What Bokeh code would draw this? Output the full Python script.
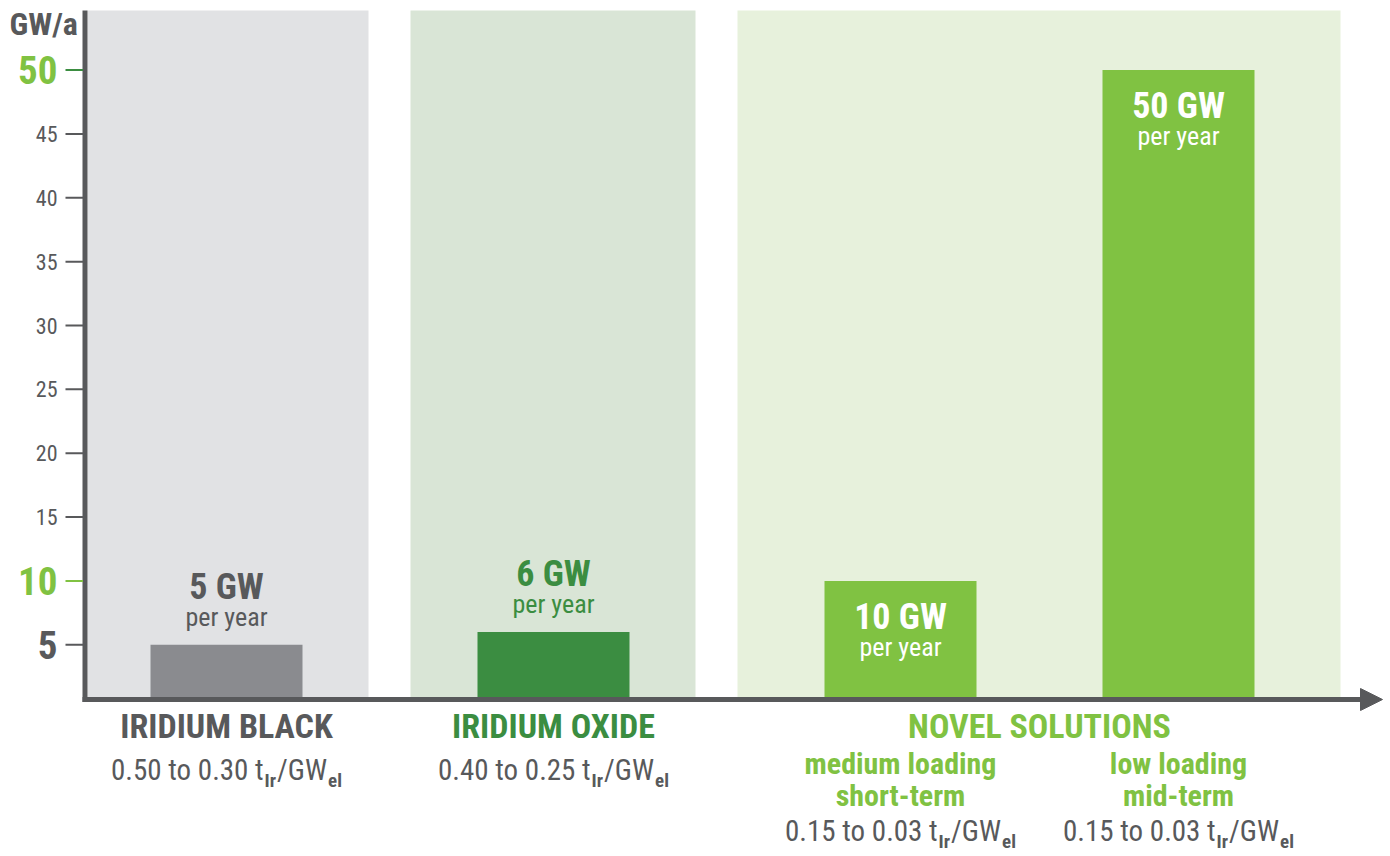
import glob, os
from bokeh.plotting import figure
from bokeh.models import Range1d, Arrow, NormalHead
from bokeh.core.properties import value
from bokeh.embed import file_html
from bokeh.resources import INLINE

# ---------------- data ----------------
groups = ["IRIDIUM BLACK", "IRIDIUM OXIDE", "NOVEL SOLUTIONS"]
bar_values = [5, 6, 10, 50]
bar_group = [0, 1, 2, 2]
bar_subtitles = [[], [], ["medium loading", "short-term"], ["low loading", "mid-term"]]
ir_ranges = ["0.50 to 0.30", "0.40 to 0.25", "0.15 to 0.03", "0.15 to 0.03"]
y_ticks = [5, 10, 15, 20, 25, 30, 35, 40, 45, 50]
big_ticks = [5, 10, 50]
y_unit = "GW/a"
value_unit = "GW"
per_text = "per year"

# ---------------- styles ----------------
DARK = "#58595b"
BAR_GRAY = "#8a8b8f"
DGREEN = "#3b8d41"
LGREEN = "#80c242"
panel_colors = ["#e1e2e4", "#d9e5d6", "#e7f1dc"]
group_colors = [DARK, DGREEN, LGREEN]
bar_colors = [BAR_GRAY, DGREEN, LGREEN, LGREEN]
label_inside = [False, False, True, True]
tick_colors = {5: DARK, 10: LGREEN, 50: LGREEN}
tick_mark_colors = {10: LGREEN, 50: DGREEN}

# ---------------- fonts ----------------
def find_font(names):
    roots = ["/usr/share/fonts", "/usr/local/share/fonts",
             os.path.expanduser("~/.fonts"), os.path.expanduser("~/.local/share/fonts")]
    for n in names:
        for r in roots:
            hits = glob.glob(os.path.join(r, "**", n), recursive=True)
            if hits:
                return hits[0]
    return None

FONT = "Roboto Condensed"
reg_path = find_font(["RobotoCondensed-Regular.ttf", "RobotoCondensed[wght].ttf"])
bold_path = find_font(["RobotoCondensed-Bold.ttf", "RobotoCondensed[wght].ttf"])

try:
    from PIL import ImageFont
    _cache = {}
    def text_w(t, size, bold=False):
        path = bold_path if bold else reg_path
        key = (path, size)
        if key not in _cache:
            _cache[key] = ImageFont.truetype(path, size)
        return _cache[key].getlength(t)
    text_w("0", 10)
except Exception:
    def text_w(t, size, bold=False):
        return len(t) * size * (0.47 if bold else 0.44)

F = value(FONT)
CAP = 0.355   # half cap height (em): baseline -> "middle" anchor

def mid(baseline_off, fs):
    return baseline_off - CAP * fs

# ---------------- layout (pixel geometry) ----------------
W, H = 1390, 856
PX_PER_GW = 12.77
ZERO_Y = 708.1                      # pixel row of value 0
def gy(row):                        # pixel row -> data value
    return (ZERO_Y - row) / PX_PER_GW

axis_y = gy(699.0)
top_y = gy(10.0)
panel_edges = [(87, 368), (410, 695), (737, 1340)]
bar_centers = [226, 553, 900, 1178]
bar_width = 152
axis_x = 84.5

p = figure(width=W, height=H, output_backend="svg", toolbar_location=None,
           x_range=Range1d(0, W), y_range=Range1d(gy(H), gy(0)),
           min_border=0, outline_line_color=None)
p.axis.visible = False
p.grid.visible = False
p.background_fill_color = "white"
p.border_fill_color = "white"

# background panels
p.quad(left=[e[0] for e in panel_edges], right=[e[1] for e in panel_edges],
       bottom=axis_y, top=top_y, fill_color=panel_colors, line_color=None)

# bars
p.vbar(x=bar_centers, width=bar_width, bottom=axis_y, top=bar_values,
       fill_color=bar_colors, line_color=None)

# y axis line
p.segment(x0=[axis_x], y0=[axis_y - 0.2], x1=[axis_x], y1=[top_y],
          line_color=DARK, line_width=5)

# x axis arrow
p.add_layout(Arrow(end=NormalHead(size=22, fill_color=DARK, line_color=DARK),
                   x_start=axis_x - 2.5, y_start=axis_y, x_end=1382, y_end=axis_y,
                   line_color=DARK, line_width=5))

# y ticks
p.segment(x0=[65] * len(y_ticks), y0=y_ticks, x1=[axis_x - 2] * len(y_ticks), y1=y_ticks,
          line_color=[tick_mark_colors.get(t, DARK) for t in y_ticks], line_width=2)
small = [t for t in y_ticks if t not in big_ticks]
p.text(x=[57] * len(small), y=small, text=[str(t) for t in small],
       text_font=F, text_font_size="22px", text_color=DARK,
       text_align="right", text_baseline="middle")
p.text(x=[57] * len(big_ticks), y=big_ticks, text=[str(t) for t in big_ticks],
       text_font=F, text_font_size="39px", text_font_style="bold",
       text_color=[tick_colors[t] for t in big_ticks],
       text_align="right", text_baseline="middle")

# unit label
p.text(x=[9], y=[top_y], text=[y_unit], text_font=F, text_font_size="32px",
       text_font_style="bold", text_color=DARK, text_align="left",
       text_baseline="middle", y_offset=mid(25, 32))

# bar value labels
for i, v in enumerate(bar_values):
    col = "white" if label_inside[i] else group_colors[bar_group[i]]
    off = 49 if label_inside[i] else -45
    p.text(x=[bar_centers[i]], y=[v], text=[f"{v} {value_unit}"], text_font=F,
           text_font_size="36px", text_font_style="bold", text_color=col,
           text_align="center", text_baseline="middle", y_offset=mid(off, 36))
    p.text(x=[bar_centers[i]], y=[v], text=[per_text], text_font=F,
           text_font_size="26px", text_color=col,
           text_align="center", text_baseline="middle", y_offset=mid(off + 26, 26))

# group labels
for g, name in enumerate(groups):
    xs = [bar_centers[i] for i in range(len(bar_values)) if bar_group[i] == g]
    p.text(x=[sum(xs) / len(xs)], y=[axis_y], text=[name], text_font=F,
           text_font_size="34px", text_font_style="bold", text_color=group_colors[g],
           text_align="center", text_baseline="middle", y_offset=mid(39, 34))

# subtitles and iridium loading
MAIN_FS, SUB_FS = 29, 19
for i, rng in enumerate(ir_ranges):
    subs = bar_subtitles[i]
    for k, s in enumerate(subs):
        p.text(x=[bar_centers[i]], y=[axis_y], text=[s], text_font=F,
               text_font_size="30px", text_font_style="bold",
               text_color=group_colors[bar_group[i]],
               text_align="center", text_baseline="middle",
               y_offset=mid(75 + 32 * k, 30))
    base = 81 if not subs else 142
    pieces = [(f"{rng} t", MAIN_FS, False, 0), ("Ir", SUB_FS, True, 7),
              ("/GW", MAIN_FS, False, 0), ("el", SUB_FS, True, 7)]
    widths = [text_w(t, fs, b) for t, fs, b, _ in pieces]
    gap = 1.0
    total = sum(widths) + gap * (len(pieces) - 1)
    xo = -total / 2
    for (t, fs, b, dy), w in zip(pieces, widths):
        p.text(x=[bar_centers[i]], y=[axis_y], text=[t], text_font=F,
               text_font_size=f"{fs}px", text_font_style="bold" if b else "normal",
               text_color=DARK, text_align="left", text_baseline="middle",
               x_offset=xo, y_offset=mid(base + dy, fs))
        xo += w + gap

open("out.html", "w").write(file_html(p, INLINE))
